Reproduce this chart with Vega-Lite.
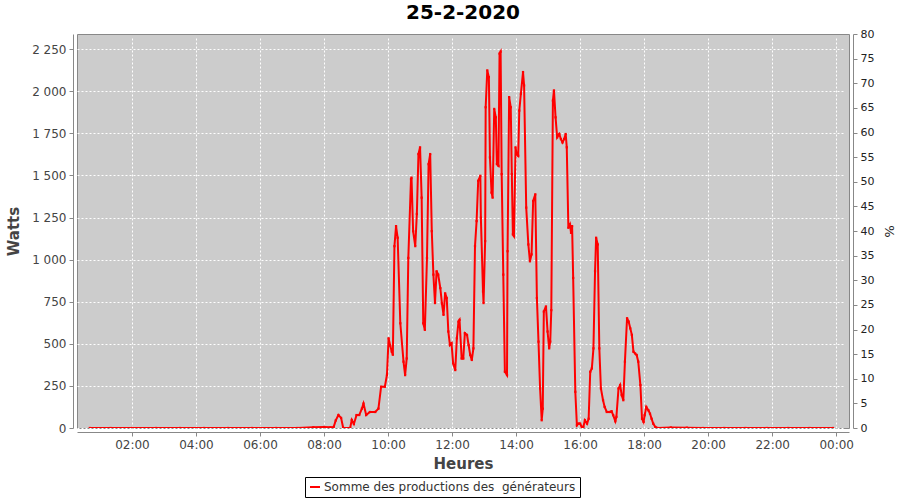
{
  "$schema": "https://vega.github.io/schema/vega-lite/v6.json",
  "autosize": {"type": "none"},
  "width": 772,
  "height": 394,
  "padding": {"left": 77, "top": 34, "right": 51, "bottom": 72},
  "background": "#ffffff",
  "title": {"text": "25-2-2020", "font": "DejaVu Sans", "fontSize": 20, "fontWeight": "bold", "color": "#000000", "offset": 5},
  "config": {
    "locale": {"number": {"decimal": ",", "thousands": " ", "grouping": [3], "currency": ["", " €"]}},
    "view": {"fill": "#cccccc", "stroke": "#888888", "strokeWidth": 1},
    "axis": {"labelFont": "DejaVu Sans", "titleFont": "DejaVu Sans", "domainColor": "#888888", "tickColor": "#888888", "tickSize": 4, "offset": 4, "gridColor": "#ffffff", "gridDash": [2, 2], "gridOpacity": 1, "gridWidth": 1}
  },
  "layer": [
  {
  "data": {"values": [
      {"t": "2020-02-25T00:41", "w": 0}, {"t": "2020-02-25T01:20", "w": 0}, {"t": "2020-02-25T02:00", "w": 0},
      {"t": "2020-02-25T02:45", "w": 0}, {"t": "2020-02-25T03:30", "w": 0}, {"t": "2020-02-25T04:15", "w": 0},
      {"t": "2020-02-25T05:00", "w": 0}, {"t": "2020-02-25T05:45", "w": 0}, {"t": "2020-02-25T06:30", "w": 0},
      {"t": "2020-02-25T07:10", "w": 0}, {"t": "2020-02-25T07:40", "w": 4}, {"t": "2020-02-25T08:00", "w": 6},
      {"t": "2020-02-25T08:12", "w": 4}, {"t": "2020-02-25T08:18", "w": 6}, {"t": "2020-02-25T08:22", "w": 45},
      {"t": "2020-02-25T08:27", "w": 77}, {"t": "2020-02-25T08:32", "w": 60}, {"t": "2020-02-25T08:36", "w": 0},
      {"t": "2020-02-25T08:49", "w": 0}, {"t": "2020-02-25T08:52", "w": 48}, {"t": "2020-02-25T08:56", "w": 24},
      {"t": "2020-02-25T09:01", "w": 77}, {"t": "2020-02-25T09:06", "w": 77}, {"t": "2020-02-25T09:11", "w": 115},
      {"t": "2020-02-25T09:14", "w": 145}, {"t": "2020-02-25T09:19", "w": 77}, {"t": "2020-02-25T09:26", "w": 95},
      {"t": "2020-02-25T09:36", "w": 95}, {"t": "2020-02-25T09:42", "w": 115}, {"t": "2020-02-25T09:47", "w": 245},
      {"t": "2020-02-25T09:54", "w": 245}, {"t": "2020-02-25T09:58", "w": 316}, {"t": "2020-02-25T10:01", "w": 533},
      {"t": "2020-02-25T10:04", "w": 490}, {"t": "2020-02-25T10:07", "w": 453}, {"t": "2020-02-25T10:09", "w": 435},
      {"t": "2020-02-25T10:12", "w": 1080}, {"t": "2020-02-25T10:15", "w": 1199}, {"t": "2020-02-25T10:18", "w": 1130},
      {"t": "2020-02-25T10:23", "w": 622}, {"t": "2020-02-25T10:29", "w": 394}, {"t": "2020-02-25T10:32", "w": 314},
      {"t": "2020-02-25T10:35", "w": 413}, {"t": "2020-02-25T10:38", "w": 1010}, {"t": "2020-02-25T10:43", "w": 1478},
      {"t": "2020-02-25T10:44", "w": 1487}, {"t": "2020-02-25T10:47", "w": 1169}, {"t": "2020-02-25T10:51", "w": 1080},
      {"t": "2020-02-25T10:54", "w": 1271}, {"t": "2020-02-25T10:57", "w": 1627}, {"t": "2020-02-25T11:00", "w": 1667},
      {"t": "2020-02-25T11:03", "w": 1368}, {"t": "2020-02-25T11:06", "w": 622}, {"t": "2020-02-25T11:09", "w": 583},
      {"t": "2020-02-25T11:13", "w": 1010}, {"t": "2020-02-25T11:16", "w": 1567}, {"t": "2020-02-25T11:19", "w": 1627},
      {"t": "2020-02-25T11:22", "w": 1169}, {"t": "2020-02-25T11:25", "w": 911}, {"t": "2020-02-25T11:28", "w": 742},
      {"t": "2020-02-25T11:31", "w": 931}, {"t": "2020-02-25T11:34", "w": 911}, {"t": "2020-02-25T11:38", "w": 831},
      {"t": "2020-02-25T11:41", "w": 740}, {"t": "2020-02-25T11:44", "w": 672}, {"t": "2020-02-25T11:47", "w": 800},
      {"t": "2020-02-25T11:50", "w": 772}, {"t": "2020-02-25T11:53", "w": 573}, {"t": "2020-02-25T11:56", "w": 493},
      {"t": "2020-02-25T11:59", "w": 503}, {"t": "2020-02-25T12:02", "w": 384}, {"t": "2020-02-25T12:06", "w": 344},
      {"t": "2020-02-25T12:09", "w": 533}, {"t": "2020-02-25T12:12", "w": 632}, {"t": "2020-02-25T12:14", "w": 642},
      {"t": "2020-02-25T12:18", "w": 413}, {"t": "2020-02-25T12:21", "w": 413}, {"t": "2020-02-25T12:24", "w": 563},
      {"t": "2020-02-25T12:28", "w": 553}, {"t": "2020-02-25T12:31", "w": 493}, {"t": "2020-02-25T12:34", "w": 434},
      {"t": "2020-02-25T12:37", "w": 404}, {"t": "2020-02-25T12:40", "w": 473}, {"t": "2020-02-25T12:43", "w": 1080},
      {"t": "2020-02-25T12:46", "w": 1229}, {"t": "2020-02-25T12:49", "w": 1468}, {"t": "2020-02-25T12:53", "w": 1498},
      {"t": "2020-02-25T12:54", "w": 1249}, {"t": "2020-02-25T12:58", "w": 811}, {"t": "2020-02-25T12:59", "w": 742},
      {"t": "2020-02-25T13:02", "w": 1110}, {"t": "2020-02-25T13:03", "w": 1905}, {"t": "2020-02-25T13:06", "w": 2124},
      {"t": "2020-02-25T13:09", "w": 2084}, {"t": "2020-02-25T13:11", "w": 1607}, {"t": "2020-02-25T13:14", "w": 1398},
      {"t": "2020-02-25T13:16", "w": 1368}, {"t": "2020-02-25T13:19", "w": 1895}, {"t": "2020-02-25T13:22", "w": 1845},
      {"t": "2020-02-25T13:24", "w": 1567}, {"t": "2020-02-25T13:27", "w": 1557}, {"t": "2020-02-25T13:29", "w": 2224},
      {"t": "2020-02-25T13:31", "w": 2235}, {"t": "2020-02-25T13:33", "w": 1508}, {"t": "2020-02-25T13:36", "w": 911},
      {"t": "2020-02-25T13:39", "w": 334}, {"t": "2020-02-25T13:43", "w": 314}, {"t": "2020-02-25T13:44", "w": 1050},
      {"t": "2020-02-25T13:47", "w": 1965}, {"t": "2020-02-25T13:50", "w": 1905}, {"t": "2020-02-25T13:52", "w": 1508},
      {"t": "2020-02-25T13:54", "w": 1150}, {"t": "2020-02-25T13:56", "w": 1140}, {"t": "2020-02-25T13:59", "w": 1667},
      {"t": "2020-02-25T14:01", "w": 1627}, {"t": "2020-02-25T14:04", "w": 1617}, {"t": "2020-02-25T14:06", "w": 1885},
      {"t": "2020-02-25T14:09", "w": 1985}, {"t": "2020-02-25T14:13", "w": 2114}, {"t": "2020-02-25T14:15", "w": 2035},
      {"t": "2020-02-25T14:19", "w": 1309}, {"t": "2020-02-25T14:23", "w": 1090}, {"t": "2020-02-25T14:26", "w": 990},
      {"t": "2020-02-25T14:29", "w": 1031}, {"t": "2020-02-25T14:32", "w": 1348}, {"t": "2020-02-25T14:36", "w": 1388},
      {"t": "2020-02-25T14:39", "w": 772}, {"t": "2020-02-25T14:42", "w": 513}, {"t": "2020-02-25T14:45", "w": 235},
      {"t": "2020-02-25T14:48", "w": 46}, {"t": "2020-02-25T14:50", "w": 115}, {"t": "2020-02-25T14:52", "w": 692},
      {"t": "2020-02-25T14:56", "w": 722}, {"t": "2020-02-25T14:59", "w": 573}, {"t": "2020-02-25T15:02", "w": 473},
      {"t": "2020-02-25T15:04", "w": 513}, {"t": "2020-02-25T15:06", "w": 700}, {"t": "2020-02-25T15:09", "w": 1945},
      {"t": "2020-02-25T15:11", "w": 2005}, {"t": "2020-02-25T15:14", "w": 1845}, {"t": "2020-02-25T15:17", "w": 1726},
      {"t": "2020-02-25T15:21", "w": 1746}, {"t": "2020-02-25T15:24", "w": 1716}, {"t": "2020-02-25T15:27", "w": 1696},
      {"t": "2020-02-25T15:30", "w": 1716}, {"t": "2020-02-25T15:33", "w": 1746}, {"t": "2020-02-25T15:35", "w": 1667},
      {"t": "2020-02-25T15:38", "w": 1189}, {"t": "2020-02-25T15:41", "w": 1209}, {"t": "2020-02-25T15:43", "w": 1159},
      {"t": "2020-02-25T15:45", "w": 1199}, {"t": "2020-02-25T15:47", "w": 891}, {"t": "2020-02-25T15:51", "w": 215},
      {"t": "2020-02-25T15:54", "w": 16}, {"t": "2020-02-25T15:57", "w": 26}, {"t": "2020-02-25T16:00", "w": 26},
      {"t": "2020-02-25T16:03", "w": 6}, {"t": "2020-02-25T16:06", "w": 6}, {"t": "2020-02-25T16:09", "w": 46},
      {"t": "2020-02-25T16:13", "w": 26}, {"t": "2020-02-25T16:16", "w": 55}, {"t": "2020-02-25T16:19", "w": 334},
      {"t": "2020-02-25T16:22", "w": 354}, {"t": "2020-02-25T16:25", "w": 473}, {"t": "2020-02-25T16:28", "w": 931},
      {"t": "2020-02-25T16:30", "w": 1130}, {"t": "2020-02-25T16:33", "w": 1090}, {"t": "2020-02-25T16:36", "w": 473},
      {"t": "2020-02-25T16:39", "w": 235}, {"t": "2020-02-25T16:43", "w": 165}, {"t": "2020-02-25T16:46", "w": 125},
      {"t": "2020-02-25T16:50", "w": 95}, {"t": "2020-02-25T16:55", "w": 95}, {"t": "2020-02-25T16:59", "w": 99},
      {"t": "2020-02-25T17:02", "w": 76}, {"t": "2020-02-25T17:06", "w": 40}, {"t": "2020-02-25T17:08", "w": 66},
      {"t": "2020-02-25T17:12", "w": 235}, {"t": "2020-02-25T17:15", "w": 255}, {"t": "2020-02-25T17:18", "w": 195},
      {"t": "2020-02-25T17:21", "w": 165}, {"t": "2020-02-25T17:24", "w": 394}, {"t": "2020-02-25T17:28", "w": 652},
      {"t": "2020-02-25T17:31", "w": 632}, {"t": "2020-02-25T17:34", "w": 592}, {"t": "2020-02-25T17:37", "w": 553},
      {"t": "2020-02-25T17:40", "w": 453}, {"t": "2020-02-25T17:43", "w": 443}, {"t": "2020-02-25T17:46", "w": 434},
      {"t": "2020-02-25T17:49", "w": 394}, {"t": "2020-02-25T17:53", "w": 255}, {"t": "2020-02-25T17:56", "w": 55},
      {"t": "2020-02-25T17:59", "w": 36}, {"t": "2020-02-25T18:01", "w": 76}, {"t": "2020-02-25T18:04", "w": 125},
      {"t": "2020-02-25T18:08", "w": 105}, {"t": "2020-02-25T18:11", "w": 85}, {"t": "2020-02-25T18:14", "w": 55},
      {"t": "2020-02-25T18:17", "w": 26}, {"t": "2020-02-25T18:21", "w": 6}, {"t": "2020-02-25T18:25", "w": 0},
      {"t": "2020-02-25T18:50", "w": 3}, {"t": "2020-02-25T19:20", "w": 2}, {"t": "2020-02-25T19:50", "w": 0},
      {"t": "2020-02-25T20:30", "w": 0}, {"t": "2020-02-25T21:10", "w": 0}, {"t": "2020-02-25T21:50", "w": 0},
      {"t": "2020-02-25T22:30", "w": 0}, {"t": "2020-02-25T23:10", "w": 0}, {"t": "2020-02-25T23:54", "w": 0}
  ]},
  "mark": {"type": "line", "strokeWidth": 2, "clip": true, "point": {"filled": true, "size": 5, "shape": "square"}},
  "encoding": {
    "x": {
      "field": "t", "type": "temporal",
      "scale": {"domain": ["2020-02-25T00:17", "2020-02-26T00:24"]},
      "axis": {"title": "Heures", "format": "%H:%M",
        "values": [
          {"year": 2020, "month": 2, "date": 25, "hours": 2}, {"year": 2020, "month": 2, "date": 25, "hours": 4},
          {"year": 2020, "month": 2, "date": 25, "hours": 6}, {"year": 2020, "month": 2, "date": 25, "hours": 8},
          {"year": 2020, "month": 2, "date": 25, "hours": 10}, {"year": 2020, "month": 2, "date": 25, "hours": 12},
          {"year": 2020, "month": 2, "date": 25, "hours": 14}, {"year": 2020, "month": 2, "date": 25, "hours": 16},
          {"year": 2020, "month": 2, "date": 25, "hours": 18}, {"year": 2020, "month": 2, "date": 25, "hours": 20},
          {"year": 2020, "month": 2, "date": 25, "hours": 22}, {"year": 2020, "month": 2, "date": 26, "hours": 0}
        ],
        "labelFontSize": 12, "labelColor": "#444444", "labelPadding": 3, "titleFontSize": 15, "titleFontWeight": "bold", "titleColor": "#444444", "titlePadding": 6, "grid": true}
    },
    "y": {
      "field": "w", "type": "quantitative",
      "scale": {"domain": [0, 2340], "nice": false},
      "axis": {"title": "Watts", "format": ",d", "values": [0, 250, 500, 750, 1000, 1250, 1500, 1750, 2000, 2250], "labelFontSize": 12, "labelColor": "#444444", "labelPadding": 3, "titleFontSize": 15, "titleFontWeight": "bold", "titleColor": "#444444", "titlePadding": 10, "grid": true}
    },
    "color": {
      "datum": "Somme des productions des\u00a0 générateurs",
      "type": "nominal",
      "scale": {"range": ["#ff0000"]},
      "legend": {"title": null, "orient": "none", "legendX": 228, "legendY": 443, "strokeColor": "#000000", "padding": 4, "labelFont": "DejaVu Sans", "labelFontSize": 12, "labelLimit": 500, "labelColor": "#333333", "symbolType": "stroke", "symbolStrokeWidth": 2, "labelOffset": 3}
    }
  }
  },
  {
    "data": {"values": [{"p": 0}]},
    "mark": {"type": "rule", "opacity": 0},
    "encoding": {
      "y": {
        "field": "p", "type": "quantitative",
        "scale": {"domain": [0, 80], "nice": false},
        "axis": {"orient": "right", "title": "%", "values": [0, 5, 10, 15, 20, 25, 30, 35, 40, 45, 50, 55, 60, 65, 70, 75, 80], "labelFontSize": 11, "labelColor": "#222222", "labelPadding": 3, "titleFontSize": 13, "titleFontWeight": "normal", "titleColor": "#222222", "titlePadding": 8, "grid": false}
      }
    }
  }
  ],
  "resolve": {"scale": {"y": "independent"}}
}
